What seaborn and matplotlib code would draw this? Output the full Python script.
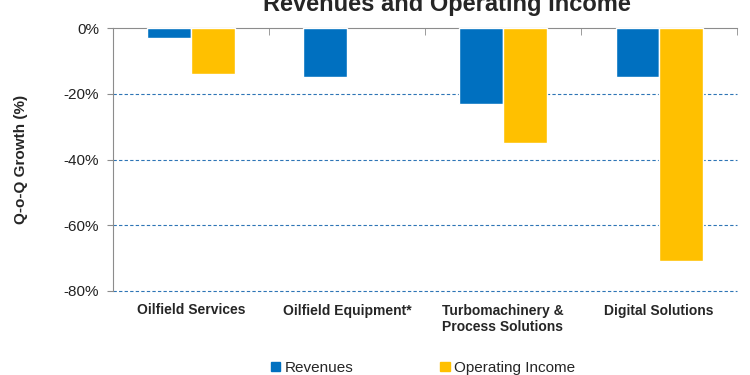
import numpy as np
import pandas as pd
import matplotlib
matplotlib.use("Agg")
import matplotlib.pyplot as plt
from matplotlib.ticker import FixedLocator, FuncFormatter
from matplotlib.patches import Patch
import seaborn as sns

# data (Q-o-Q growth, %)
segments = ["Oilfield Services", "Oilfield Equipment*",
            "Turbomachinery &\nProcess Solutions", "Digital Solutions"]
revenues = [-3, -15, -23, -15]
operating_income = [-14, np.nan, -35, -71]
series_names = ["Revenues", "Operating Income"]
colors = ["#0070C0", "#FFC000"]

df = pd.DataFrame({
    "Segment": segments * 2,
    "Series": [series_names[0]] * 4 + [series_names[1]] * 4,
    "Growth": revenues + operating_income,
})

sns.set_style("white")
plt.rcParams["font.family"] = ["Liberation Sans", "DejaVu Sans"]

fig = plt.figure(figsize=(7.5, 3.75), dpi=100)
ax = fig.add_axes([0.1507, 0.224, 0.8323, 0.7013])

sns.barplot(data=df, x="Segment", y="Growth", hue="Series",
            palette=colors, width=0.56, saturation=1, ax=ax,
            legend=False, zorder=3)

ax.set_ylim(-80, 0)
ax.set_xlim(-0.5, 3.5)
ax.set_yticks([0, -20, -40, -60, -80])
ax.yaxis.set_major_formatter(FuncFormatter(lambda v, p: f"{int(v)}%"))
for v in [-20, -40, -60, -80]:
    ax.axhline(v, color="#2E75B6", lw=0.8, ls=(0, (3, 2)), zorder=1, clip_on=False)

for s in ["right", "bottom"]:
    ax.spines[s].set_visible(False)
ax.spines["left"].set_color("#8C8C8C")
ax.spines["top"].set_color("#8C8C8C")

ax.tick_params(axis="y", which="major", left=True, length=4, color="#8C8C8C",
               labelsize=11, pad=6, labelcolor="#222222")
ax.tick_params(axis="x", which="major", length=0, pad=9, labelsize=10)
for lab in ax.get_xticklabels():
    lab.set_fontweight("bold")
    lab.set_multialignment("left")
    lab.set_va("top")

ax.xaxis.set_minor_locator(FixedLocator([0.5, 1.5, 2.5, 3.5]))
ax.tick_params(axis="x", which="minor", top=True, bottom=False,
               direction="in", length=5, color="#8C8C8C")

ax.set_xlabel("")
ax.set_ylabel("Q-o-Q Growth (%)", fontsize=11, fontweight="bold", labelpad=26)

fig.text(0.596, 1 - 5 / 375, "Revenues and Operating Income",
         ha="center", va="center", fontsize=17, fontweight="bold")

handles = [Patch(color=c, label=n) for c, n in zip(colors, series_names)]
fig.legend(handles=handles, loc="center", bbox_to_anchor=(0.564, 1 - 368 / 375),
           ncol=2, frameon=False, fontsize=11, handlelength=0.6,
           handleheight=0.6, handletextpad=0.3, columnspacing=5.7)

fig.savefig("out.png", dpi=100)
